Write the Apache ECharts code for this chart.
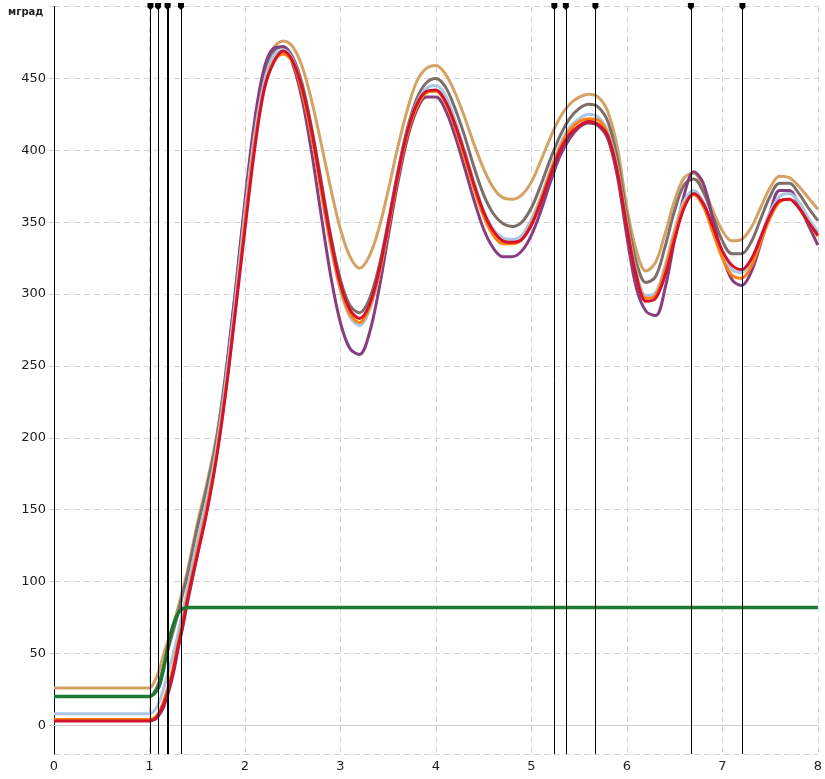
<!DOCTYPE html>
<html>
<head>
<meta charset="utf-8">
<script src="https://cdn.jsdelivr.net/npm/echarts@6/dist/echarts.min.js"></script>
<style>
  html, body { margin: 0; padding: 0; background: #fff; }
  #main { width: 825px; height: 779px; }
</style>
</head>
<body>
<div id="main"></div>
<script>
// время, с
const xs = [0, 0.5, 0.9, 1, 1.05, 1.1, 1.15, 1.2, 1.25, 1.3, 1.35,
  1.4, 1.5, 1.6, 1.7, 1.8, 1.9, 2, 2.1, 2.2, 2.3, 2.4, 2.5, 2.6, 2.7, 2.8, 2.9,
  3, 3.1, 3.2, 3.3, 3.4, 3.5, 3.6, 3.7, 3.8, 3.9, 4, 4.1, 4.2, 4.3, 4.4, 4.5, 4.6, 4.7, 4.8, 4.9,
  5, 5.1, 5.2, 5.3, 5.4, 5.5, 5.6, 5.7, 5.8, 5.9, 6, 6.1, 6.2, 6.3, 6.4, 6.5, 6.6, 6.7, 6.8, 6.9,
  7, 7.1, 7.2, 7.3, 7.4, 7.5, 7.6, 7.7, 7.8, 7.9, 8];

const tanVals = [26, 26, 26, 26, 30, 38, 50, 60, 70, 82, 95,
  108, 140, 168, 200, 242, 296, 355, 410, 450, 471, 476, 472, 458, 434, 404, 373,
  345, 326, 318, 326, 345, 372, 402, 428, 448, 457, 459, 453, 440, 423, 404, 387, 374, 367, 366, 369,
  378, 393, 409, 423, 432, 437, 439, 437, 427, 402, 360, 330, 316, 322, 342, 365, 381, 384, 374, 358,
  344, 337, 338, 346, 360, 374, 382, 381, 375, 367, 359];

const grayVals = [20, 20, 20, 20, 23, 30, 42, 54, 66, 78, 92,
  105, 137, 165, 198, 246, 302, 362, 415, 452, 469, 472, 465, 446, 415, 378, 340,
  310, 292, 287, 296, 318, 350, 385, 415, 436, 447, 450, 444, 429, 410, 388, 369, 356, 349, 347, 350,
  360, 376, 394, 410, 422, 429, 432, 430, 420, 394, 354, 322, 308, 312, 333, 358, 376, 380, 371, 354,
  337, 328, 328, 336, 352, 368, 377, 377, 370, 360, 351];

const purpleVals = [4, 4, 4, 4, 4, 7, 13, 23, 36, 53, 69,
  86, 118, 150, 190, 243, 302, 365, 420, 457, 471, 472, 460, 435, 398, 354, 312,
  280, 262, 258, 272, 302, 340, 377, 408, 428, 437, 437, 428, 410, 388, 365, 345, 332, 326, 326, 330,
  341, 358, 378, 396, 408, 416, 419, 417, 408, 382, 340, 304, 288, 285, 304, 338, 369, 385, 377, 352,
  327, 310, 306, 315, 335, 357, 372, 372, 362, 348, 334];

const blueVals = [8, 8, 8, 8, 10, 16, 26, 38, 50, 64, 80,
  96, 128, 157, 192, 240, 296, 357, 410, 447, 466, 470, 463, 442, 409, 370, 332,
  302, 284, 278, 288, 312, 346, 382, 413, 433, 443, 445, 438, 421, 400, 378, 358, 345, 339, 338, 341,
  352, 368, 387, 404, 416, 422, 425, 423, 413, 388, 349, 315, 299, 301, 320, 345, 365, 372, 364, 346,
  328, 317, 315, 323, 340, 357, 368, 370, 364, 353, 343];

const orangeVals = [4, 4, 4, 4, 5, 9, 17, 28, 41, 57, 73,
  90, 121, 151, 187, 234, 289, 350, 404, 442, 462, 467, 461, 440, 409, 371, 334,
  304, 286, 280, 290, 313, 346, 381, 411, 430, 440, 441, 433, 416, 395, 373, 354, 341, 335, 335, 338,
  349, 366, 385, 402, 414, 420, 422, 421, 411, 386, 347, 313, 297, 299, 317, 342, 362, 369, 361, 343,
  325, 313, 311, 319, 336, 353, 364, 366, 360, 350, 340];

const redVals = [3, 3, 3, 3, 4, 8, 15, 25, 38, 55, 70,
  88, 118, 148, 185, 232, 288, 345, 400, 442, 461, 469, 462, 443, 413, 375, 338,
  307, 289, 283, 292, 315, 348, 383, 413, 432, 441, 442, 434, 418, 398, 376, 357, 344, 337, 336, 338,
  348, 364, 383, 400, 411, 417, 420, 418, 410, 385, 346, 312, 295, 297, 313, 338, 360, 370, 363, 347,
  330, 320, 317, 324, 339, 355, 365, 366, 360, 350, 341];

const greenVals = [20, 20, 20, 20, 22, 27, 40, 57, 70, 78, 81,
  82, 82, 82, 82, 82, 82, 82, 82, 82, 82, 82, 82, 82, 82, 82, 82,
  82, 82, 82, 82, 82, 82, 82, 82, 82, 82, 82, 82, 82, 82, 82, 82, 82, 82, 82, 82,
  82, 82, 82, 82, 82, 82, 82, 82, 82, 82, 82, 82, 82, 82, 82, 82, 82, 82, 82, 82,
  82, 82, 82, 82, 82, 82, 82, 82, 82, 82, 82];

// отметки событий
const eventTimes = [1.01, 1.095, 1.19, 1.335, 5.24, 5.36, 5.67, 6.67, 7.21];

const yTicks = { min: -20, max: 500 };
const xTicks = { min: 0, max: 8, step: 1 };

function pairs(vals) {
  return xs.map((x, i) => [x, vals[i]]);
}

function curve(name, vals, color, width) {
  return {
    name: name,
    type: 'line',
    data: pairs(vals),
    smooth: 0.35,
    showSymbol: false,
    lineStyle: { color: color, width: width },
    itemStyle: { color: color }
  };
}

const chart = echarts.init(document.getElementById('main'));

const option = {
  animation: false,
  backgroundColor: '#fff',
  title: {
    text: 'мград',
    left: 0,
    top: 0,
    padding: [7, 4, 6, 8],
    backgroundColor: '#fff',
    textStyle: { fontSize: 10, fontWeight: 'bold', color: '#222', fontFamily: 'DejaVu Sans' }
  },
  grid: { left: 54, right: 6, top: 4, bottom: 25 },
  xAxis: {
    type: 'value',
    min: xTicks.min,
    max: xTicks.max,
    interval: xTicks.step,
    axisLine: { lineStyle: { color: '#ccc' } },
    axisTick: { show: false },
    axisLabel: { color: '#222', fontSize: 13, fontFamily: 'DejaVu Sans', margin: 6 },
    splitLine: { show: true, lineStyle: { color: '#d4d4d4', type: [6, 4] } }
  },
  yAxis: {
    type: 'value',
    min: yTicks.min,
    max: yTicks.max,
    splitNumber: 10,
    axisLine: { show: true, lineStyle: { color: '#000' } },
    axisTick: { show: true, length: 5, lineStyle: { color: '#ccc' } },
    axisLabel: { color: '#222', fontSize: 13, fontFamily: 'DejaVu Sans', showMinLabel: false, margin: 8 },
    splitLine: { show: true, lineStyle: { color: '#d4d4d4', type: [6, 4] } }
  },
  series: [
    curve('tan', tanVals, '#d4a265', 3),
    curve('gray', grayVals, '#7d6e69', 3),
    curve('purple', purpleVals, '#883e7e', 3),
    curve('blue', blueVals, '#a9c6e4', 3),
    curve('orange', orangeVals, '#ff7f0e', 3),
    curve('red', redVals, '#d5122b', 3),
    curve('green', greenVals, '#1c7a33', 3.5),
    {
      name: 'events',
      type: 'line',
      data: [],
      z: 5,
      markLine: {
        silent: true,
        symbol: ['none', 'path://M0,0 L10,0 L10,6 L5,10 L0,6 Z'],
        symbolSize: [6, 7],
        label: { show: false },
        lineStyle: { color: '#000', width: 1, type: 'solid' },
        emphasis: { disabled: true },
        data: eventTimes.map(t => ({
          xAxis: t,
          lineStyle: { width: t === 1.19 ? 2 : 1 },
          itemStyle: { color: '#333' }
        }))
      }
    }
  ]
};

chart.setOption(option);
</script>
</body>
</html>
